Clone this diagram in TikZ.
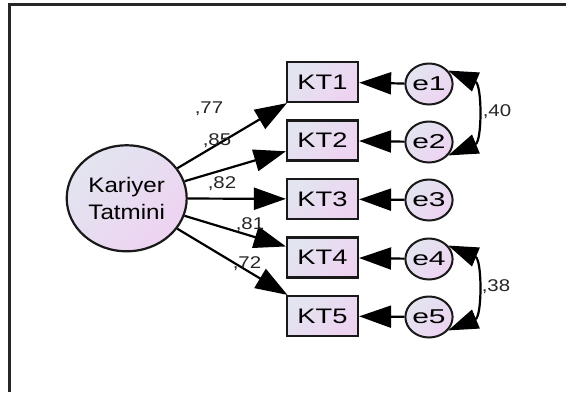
\documentclass[tikz,border=0pt]{standalone}
\usepackage{fontspec}
\setmainfont{Liberation Sans}
\newfontfamily\amosfont[FakeStretch=1.3]{Liberation Sans}
\newfontfamily\amoslat[FakeStretch=1.15]{Liberation Sans}
\newfontfamily\amoswide[FakeStretch=1.5]{Liberation Sans}
\newfontfamily\amoscoef[FakeStretch=1.2]{Liberation Sans}
\usetikzlibrary{shapes.geometric,arrows.meta}
\definecolor{gA}{RGB}{226,229,240}
\definecolor{gB}{RGB}{238,211,241}
\tikzset{
  shadefill/.style={top color=gA, bottom color=gB, shading angle=45},
  obsbox/.style={draw=black!90, line width=2.2pt, shadefill, minimum width=71pt, minimum height=40pt, inner sep=0pt, font=\amosfont\fontsize{21}{24}\selectfont},
  errc/.style={draw=black!90, line width=2pt, ellipse, shadefill, minimum width=43pt, minimum height=41pt, inner sep=0pt, font=\amoswide\fontsize{20}{24}\selectfont},
  latent/.style={draw=black!90, line width=2.2pt, ellipse, shadefill, minimum width=120pt, minimum height=106pt, inner sep=0pt, align=center, font=\amoslat\fontsize{21}{27}\selectfont},
  loadpath/.style={line width=2.2pt, -{Triangle[length=32pt,width=22pt]}},
  covpath/.style={line width=2.2pt, {Triangle[length=30pt,width=20pt]}-{Triangle[length=30pt,width=20pt]}},
  coef/.style={font=\amoscoef\fontsize{17}{20}\selectfont, inner sep=0pt, text=black!85}
}
\begin{document}
\begin{tikzpicture}[x=1pt,y=-1pt]
\useasboundingbox (0,0) rectangle (566,392);
\fill[white] (0,0) rectangle (566,392);
\coordinate (fb) at (9.5,392);
\coordinate (fc) at (9.5,4.5);
\coordinate (fr) at (566,4.5);
\draw[line width=2.4pt, black!85] (fb) -- (fc) -- (fr);

\node[latent] (F) at (126.7,198.3) {Kariyer\\Tatmini};

\node[obsbox] (k1) at (322.5,82) {KT1};
\node[obsbox] (k2) at (322.5,140.5) {KT2};
\node[obsbox] (k3) at (322.5,199) {KT3};
\node[obsbox] (k4) at (322.5,257.5) {KT4};
\node[obsbox] (k5) at (322.5,316) {KT5};

\node[errc] (e1) at (429,84) {e1};
\node[errc] (e2) at (429,142) {e2};
\node[errc] (e3) at (429,200) {e3};
\node[errc] (e4) at (429,259) {e4};
\node[errc] (e5) at (429,317) {e5};

\foreach \i in {1,...,5}{
  \draw[loadpath] (F) -- (k\i);
  \draw[loadpath] (e\i) -- (k\i);
}

\draw[covpath] (e1.35) .. controls +(34,14) and +(34,-14) .. (e2.-35);
\draw[covpath] (e4.35) .. controls +(34,14) and +(34,-14) .. (e5.-35);

\node[coef] (c1) at (209,109) {,77};
\node[coef] (c2) at (217,141) {,85};
\node[coef] (c3) at (222,184) {,82};
\node[coef] (c4) at (250,225) {,81};
\node[coef] (c5) at (247,264) {,72};
\node[coef] (c6) at (497,112) {,40};
\node[coef] (c7) at (496,287) {,38};
\end{tikzpicture}
\end{document}
